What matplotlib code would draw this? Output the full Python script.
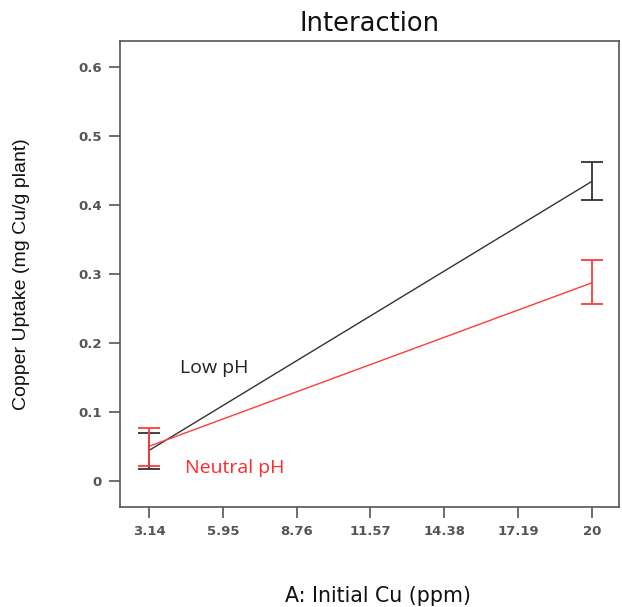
import matplotlib
matplotlib.use("Agg")
import matplotlib.pyplot as plt

# data
cu_levels = [3.14, 20]
low_ph = [0.044, 0.434]
low_ph_lo = [0.017, 0.407]
low_ph_hi = [0.070, 0.462]
neutral_ph = [0.050, 0.287]
neutral_ph_lo = [0.021, 0.256]
neutral_ph_hi = [0.077, 0.320]

x_ticks = [3.14, 5.95, 8.76, 11.57, 14.38, 17.19, 20]
x_tick_labels = ["3.14", "5.95", "8.76", "11.57", "14.38", "17.19", "20"]
y_ticks = [0, 0.1, 0.2, 0.3, 0.4, 0.5, 0.6]
y_tick_labels = ["0", "0.1", "0.2", "0.3", "0.4", "0.5", "0.6"]

BLACK = "#333333"
RED = "#ff3b3b"
AXIS_GRAY = "#555555"

fig = plt.figure(figsize=(6.22, 6.07), dpi=100)
ax = fig.add_axes([0.193, 0.165, 0.802, 0.768])


def yerr(mid, lo, hi):
    return [[m - l for m, l in zip(mid, lo)], [h - m for m, h in zip(mid, hi)]]


ax.plot(cu_levels, low_ph, color=BLACK, lw=1.0, zorder=3)
ax.plot(cu_levels, neutral_ph, color=RED, lw=1.0, zorder=4)
ax.errorbar(cu_levels, low_ph, yerr=yerr(low_ph, low_ph_lo, low_ph_hi),
            fmt="none", ecolor=BLACK, elinewidth=1.3, capsize=8, capthick=1.3, zorder=3)
ax.errorbar(cu_levels, neutral_ph, yerr=yerr(neutral_ph, neutral_ph_lo, neutral_ph_hi),
            fmt="none", ecolor=RED, elinewidth=1.3, capsize=8, capthick=1.3, zorder=4)

ax.text(4.31, 0.164, "Low pH", color="#222222", fontsize=14, family="Open Sans",
        ha="left", va="center")
ax.text(4.50, 0.019, "Neutral pH", color="#ff2a2a", fontsize=14, family="Open Sans",
        ha="left", va="center")

ax.set_xlim(2.04, 21.03)
ax.set_ylim(-0.0377, 0.638)
ax.set_xticks(x_ticks)
ax.set_xticklabels(x_tick_labels)
ax.set_yticks(y_ticks)
ax.set_yticklabels(y_tick_labels)

for lab in ax.get_xticklabels() + ax.get_yticklabels():
    lab.set_fontweight("bold")
    lab.set_fontsize(9.5)
    lab.set_color(AXIS_GRAY)
ax.tick_params(direction="out", length=8, width=1.2, color=AXIS_GRAY, pad=5)

for side in ["top", "bottom", "left", "right"]:
    ax.spines[side].set_color(AXIS_GRAY)
    ax.spines[side].set_linewidth(1.2)

ax.set_title("Interaction", fontsize=18.5, color="#111111", pad=7)
ax.set_xlabel("A: Initial Cu (ppm)", fontsize=14.8, color="#111111")
ax.xaxis.set_label_coords(0.518, -0.17)
ax.set_ylabel("Copper Uptake (mg Cu/g plant)", fontsize=14, family="Liberation Sans",
              color="#111111")
ax.yaxis.set_label_coords(-0.18, 0.50)

fig.savefig("out.png", dpi=100)
